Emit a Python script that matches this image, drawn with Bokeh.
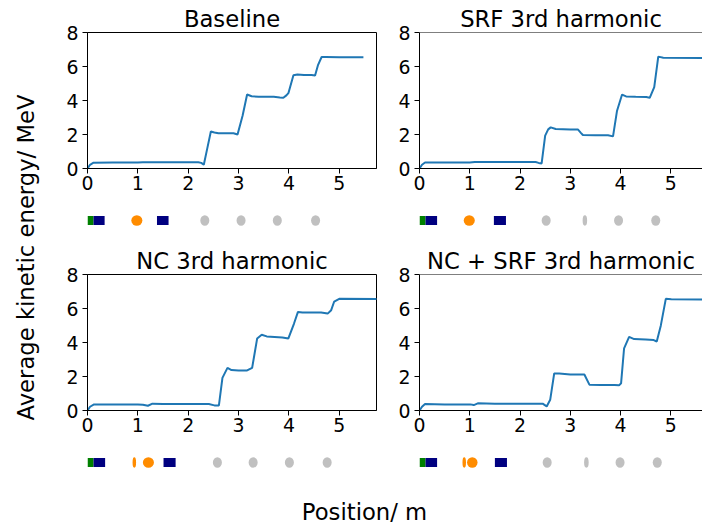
import math
from bokeh.plotting import figure
from bokeh.layouts import row, column
from bokeh.models import Range1d, FixedTicker, Span
from bokeh.core.properties import value
from bokeh.embed import file_html
from bokeh.resources import INLINE

FONT = "DejaVu Sans"
BIG = "22.7px"
SMALL = "18.9px"

titles = ["Baseline", "SRF 3rd harmonic", "NC 3rd harmonic", "NC + SRF 3rd harmonic"]
y_label = ["Average kinetic energy/ MeV"]
x_label = ["Position/ m"]
x_ticks = [0, 1, 2, 3, 4, 5]
y_ticks = [0, 2, 4, 6, 8]

# Average kinetic energy (MeV) vs position (m)
base_x = [0.0, 0.05, 0.12, 0.5, 1.0, 1.1, 1.5, 2.0, 2.2, 2.26, 2.31, 2.38, 2.45, 2.52, 2.6, 2.9,
          2.98, 3.08, 3.17, 3.26, 3.4, 3.7, 3.82, 3.89, 3.95, 3.99, 4.09, 4.17, 4.3, 4.45, 4.52,
          4.58, 4.65, 4.73, 5.0, 5.48]
base_y = [0.0, 0.22, 0.34, 0.35, 0.35, 0.37, 0.37, 0.37, 0.37, 0.33, 0.22, 1.2, 2.18, 2.12, 2.08, 2.07,
          2.0, 3.1, 4.35, 4.25, 4.22, 4.22, 4.18, 4.16, 4.3, 4.43, 5.48, 5.53, 5.5, 5.5, 5.47,
          6.1, 6.56, 6.56, 6.54, 6.54]

srf_x = [0.0, 0.05, 0.11, 0.5, 1.0, 1.1, 2.0, 2.31, 2.37, 2.43, 2.5, 2.56, 2.61, 2.71, 3.0, 3.15,
         3.21, 3.25, 3.5, 3.75, 3.85, 3.93, 4.03, 4.11, 4.3, 4.51, 4.58, 4.67, 4.75, 4.85, 5.75]
srf_y = [0.0, 0.22, 0.35, 0.36, 0.36, 0.38, 0.38, 0.38, 0.33, 0.3, 1.93, 2.3, 2.42, 2.32, 2.3, 2.3,
         2.1, 1.97, 1.96, 1.95, 1.89, 3.4, 4.35, 4.24, 4.22, 4.2, 4.16, 4.79, 6.58, 6.52, 6.5]

nc_x = [0.0, 0.05, 0.13, 0.5, 1.0, 1.1, 1.2, 1.29, 1.5, 2.0, 2.41, 2.52, 2.61, 2.68, 2.78, 2.86,
        3.0, 3.17, 3.27, 3.37, 3.46, 3.56, 3.87, 3.99, 4.1, 4.18, 4.27, 4.64, 4.77, 4.84, 4.9,
        5.0, 5.75]
nc_y = [0.0, 0.22, 0.36, 0.36, 0.36, 0.34, 0.28, 0.4, 0.38, 0.38, 0.38, 0.3, 0.3, 1.92, 2.51, 2.38,
        2.36, 2.36, 2.51, 4.24, 4.46, 4.36, 4.3, 4.24, 5.1, 5.8, 5.76, 5.76, 5.7, 5.9, 6.41,
        6.57, 6.56]

both_x = [0.0, 0.05, 0.11, 0.5, 1.01, 1.08, 1.16, 1.5, 2.0, 2.45, 2.53, 2.6, 2.68, 2.78, 3.0, 3.28,
          3.38, 3.6, 3.88, 3.97, 4.01, 4.07, 4.17, 4.27, 4.5, 4.66, 4.72, 4.8, 4.9, 5.01, 5.75]
both_y = [0.0, 0.22, 0.38, 0.36, 0.36, 0.32, 0.42, 0.4, 0.4, 0.4, 0.24, 0.63, 2.18, 2.18, 2.12, 2.12,
          1.52, 1.5, 1.5, 1.48, 1.6, 3.66, 4.33, 4.2, 4.17, 4.14, 4.06, 4.99, 6.57, 6.55, 6.52]

series_x = [base_x, srf_x, nc_x, both_x]
series_y = [base_y, srf_y, nc_y, both_y]

# Beamline elements: rectangles (start, end, colour) and ellipses (centre, length, colour)
rect_start = [[0.0, 0.12, 1.38], [0.0, 0.12, 1.48], [0.0, 0.12, 1.51], [0.0, 0.12, 1.50]]
rect_end = [[0.12, 0.34, 1.61], [0.12, 0.35, 1.72], [0.12, 0.35, 1.75], [0.12, 0.35, 1.74]]
rect_color = [["green", "navy", "navy"]] * 4

ell_x = [[0.98, 2.33, 3.05, 3.77, 4.53],
         [0.99, 2.52, 3.29, 3.96, 4.70],
         [0.93, 1.21, 2.58, 3.29, 4.01, 4.76],
         [0.89, 1.05, 2.54, 3.32, 3.99, 4.73]]
ell_len = [[0.22, 0.18, 0.18, 0.18, 0.18],
           [0.22, 0.18, 0.09, 0.18, 0.18],
           [0.07, 0.22, 0.18, 0.18, 0.18, 0.18],
           [0.07, 0.21, 0.18, 0.09, 0.18, 0.18]]
ell_color = [["darkorange", "silver", "silver", "silver", "silver"],
             ["darkorange", "silver", "silver", "silver", "silver"],
             ["darkorange", "darkorange", "silver", "silver", "silver", "silver"],
             ["darkorange", "darkorange", "silver", "silver", "silver", "silver"]]

# layout geometry
LBL_W = 40
FRAME_H = 136
col_left = [47, 38]
col_frame_w = [289, 283]
col_right = [5, 0]
col_xend = [5.74, 5.63]
row_top = [32, 34]
row_bottom = [32, 32]
STRIP_H = 40


def main_fig(i):
    c = i % 2
    r = i // 2
    xr = Range1d(0, col_xend[c])
    p = figure(width=col_left[c] + col_frame_w[c] + col_right[c],
               height=row_top[r] + FRAME_H + row_bottom[r],
               x_range=xr, y_range=Range1d(0, 8),
               output_backend="svg", toolbar_location=None,
               min_border_left=col_left[c], min_border_right=col_right[c],
               min_border_top=row_top[r], min_border_bottom=row_bottom[r],
               title=titles[i])
    p.title.text_font = FONT
    p.title.text_font_size = BIG
    p.title.text_font_style = "normal"
    p.title.text_color = "black"
    p.title.align = "center"
    p.title.standoff = 2
    p.grid.visible = False
    p.background_fill_color = "white"
    p.border_fill_color = "white"
    if c == 0:
        p.outline_line_color = "black"
        p.outline_line_width = 1
        p.outline_line_alpha = 1.0
    else:
        p.outline_line_color = None
        p.add_layout(Span(location=8, dimension="width", line_color="black", line_width=1))
    for ax in (p.xaxis[0], p.yaxis[0]):
        ax.axis_line_color = "black"
        ax.axis_line_width = 1
        ax.major_tick_line_color = "black"
        ax.major_tick_out = 5
        ax.major_tick_in = 0
        ax.minor_tick_line_color = None
        ax.major_label_text_font = FONT
        ax.major_label_text_font_size = SMALL
        ax.major_label_text_color = "black"
        ax.major_label_standoff = 4
    p.xaxis[0].major_label_standoff = 2
    p.xaxis[0].ticker = FixedTicker(ticks=x_ticks)
    p.yaxis[0].ticker = FixedTicker(ticks=y_ticks)
    p.line(series_x[i], series_y[i], line_color="#1f77b4", line_width=2)
    return p, xr


def strip_fig(i, xr):
    c = i % 2
    p = figure(width=col_left[c] + col_frame_w[c] + col_right[c], height=STRIP_H,
               x_range=xr, y_range=Range1d(-1, 1),
               output_backend="svg", toolbar_location=None,
               min_border_left=col_left[c], min_border_right=col_right[c],
               min_border_top=0, min_border_bottom=0,
               x_axis_location=None, y_axis_location=None)
    p.grid.visible = False
    p.outline_line_color = None
    p.quad(left=rect_start[i], right=rect_end[i], top=0.23, bottom=-0.23,
           fill_color=rect_color[i], line_color=None)
    p.ellipse(x=ell_x[i], y=[0] * len(ell_x[i]), width=ell_len[i], height=0.52,
              fill_color=ell_color[i], line_color=None)
    return p


mains = []
strips = []
for i in range(4):
    m, xr = main_fig(i)
    mains.append(m)
    strips.append(strip_fig(i, xr))

# shared y label
ylab = figure(width=LBL_W, height=525, x_range=Range1d(0, LBL_W), y_range=Range1d(0, 525),
              output_backend="svg", toolbar_location=None, min_border=0,
              x_axis_location=None, y_axis_location=None)
ylab.grid.visible = False
ylab.outline_line_color = None
ylab.text(x=[25], y=[525 - 257], text=y_label, angle=math.pi / 2,
          text_align="center", text_baseline="middle",
          text_font=value(FONT), text_font_size=BIG, text_color="black")

XL_H = 525 - 2 * (32 + FRAME_H + 32 + STRIP_H) - 2
xlab = figure(width=702 - LBL_W, height=XL_H, x_range=Range1d(LBL_W, 702), y_range=Range1d(0, XL_H),
              output_backend="svg", toolbar_location=None, min_border=0,
              x_axis_location=None, y_axis_location=None)
xlab.grid.visible = False
xlab.outline_line_color = None
xlab.text(x=[364], y=[XL_H - 29], text=x_label,
          text_align="center", text_baseline="middle",
          text_font=value(FONT), text_font_size=BIG, text_color="black")

grid = column(
    row(mains[0], mains[1]),
    row(strips[0], strips[1]),
    row(mains[2], mains[3]),
    row(strips[2], strips[3]),
    xlab,
)
layout = row(ylab, grid)

open("out.html", "w").write(file_html(layout, INLINE))
